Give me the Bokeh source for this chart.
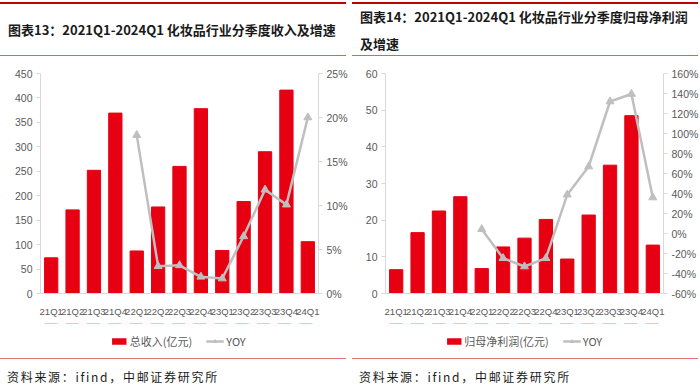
from bokeh.plotting import figure
from bokeh.models import (Range1d, LinearAxis, Legend, LegendItem, Div,
                          PrintfTickFormatter, FixedTicker)
from bokeh.core.properties import value
from bokeh.layouts import row, column
from bokeh.embed import file_html
from bokeh.resources import INLINE

# ---------------- data ----------------
quarters = ["21Q1", "21Q2", "21Q3", "21Q4", "22Q1", "22Q2", "22Q3", "22Q4",
            "23Q1", "23Q2", "23Q3", "23Q4", "24Q1"]
yoy_quarters = ["22Q1", "22Q2", "22Q3", "22Q4", "23Q1", "23Q2", "23Q3", "23Q4", "24Q1"]

revenue = [73, 171, 252, 369, 87, 177, 260, 378, 88, 188, 290, 416, 106]
revenue_yoy = [18.0, 3.1, 3.2, 1.9, 1.7, 6.5, 11.8, 10.1, 20.0]

profit = [6.5, 16.6, 22.5, 26.4, 6.8, 12.7, 15.1, 20.2, 9.4, 21.4, 35.0, 48.5, 13.2]
profit_yoy = [4.3, -24.7, -33.0, -24.7, 38.8, 67.0, 132.0, 139.5, 36.0]

left_ticks_1 = [0, 50, 100, 150, 200, 250, 300, 350, 400, 450]
right_ticks_1 = [0, 5, 10, 15, 20, 25]
left_ticks_2 = [0, 10, 20, 30, 40, 50, 60]
right_ticks_2 = [-60, -40, -20, 0, 20, 40, 60, 80, 100, 120, 140, 160]

title_1 = "图表13：2021Q1-2024Q1 化妆品行业分季度收入及增速"
title_2a = "图表14：2021Q1-2024Q1 化妆品行业分季度归母净利润"
title_2b = "及增速"
bar_label_1 = "总收入(亿元)"
bar_label_2 = "归母净利润(亿元)"
line_label = "YOY"
source_text = "资料来源：ifind，中邮证券研究所"

RED = "#E60012"
GRAY = "#BFBFBF"
AXIS = "#D9D9D9"
TXT = "#595959"
NUM_FONT = "Liberation Sans"
CJK = "Noto Sans CJK SC"


def add_series(p, values, yoy, bar_line):
    bars = p.vbar(x=quarters, top=values, width=0.62, fill_color=RED, line_color=bar_line)
    line = p.line(x=yoy_quarters, y=yoy, y_range_name="right", color=GRAY, line_width=2.5)
    pts = p.scatter(x=yoy_quarters, y=yoy, y_range_name="right", marker="triangle",
                    size=8, color=GRAY)
    return bars, line, pts


def make_chart(values, yoy, yl, yr, lticks, rticks, width, min_left, fw, min_right):
    p = figure(width=width, height=266, frame_width=fw, frame_height=220,
               x_range=quarters, y_range=Range1d(yl[0], yl[1]),
               output_backend="svg", toolbar_location=None,
               min_border_left=min_left, min_border_right=min_right,
               min_border_top=16, min_border_bottom=30)
    p.outline_line_color = None
    p.xgrid.grid_line_color = None
    p.ygrid.grid_line_color = None
    p.extra_y_ranges = {"right": Range1d(yr[0], yr[1])}
    add_series(p, values, yoy, RED)

    ya = p.yaxis[0]
    ya.ticker = FixedTicker(ticks=lticks)
    ra = LinearAxis(y_range_name="right", ticker=FixedTicker(ticks=rticks),
                    formatter=PrintfTickFormatter(format="%d%%"))
    p.add_layout(ra, "right")
    for ax in (ya, ra):
        ax.axis_line_color = AXIS
        ax.major_tick_line_color = AXIS
        ax.major_tick_out = 4
        ax.major_tick_in = 0
        ax.minor_tick_line_color = None
        ax.major_label_text_color = TXT
        ax.major_label_text_font = NUM_FONT
        ax.major_label_text_font_size = "10.5px"
        ax.major_label_standoff = 4
    xa = p.xaxis[0]
    xa.axis_line_color = AXIS
    xa.major_tick_line_color = None
    xa.major_tick_in = 0
    xa.major_tick_out = 0
    xa.separator_line_color = None
    xa.major_label_text_color = TXT
    xa.major_label_text_font = NUM_FONT
    xa.major_label_text_font_size = "9.5px"
    xa.major_label_standoff = 12
    return p


def make_legend(values, yoy, bar_label, width, shift):
    # legend strip: the same series, placed outside this strip's visible range,
    # so only the legend swatches show
    q = figure(width=width, height=35, x_range=quarters, y_range=Range1d(-1000, -999),
               output_backend="svg", toolbar_location=None,
               x_axis_location=None, y_axis_location=None,
               min_border_left=shift, min_border_right=0,
               min_border_top=0, min_border_bottom=0)
    q.extra_y_ranges = {"right": Range1d(-1000, -999)}
    q.outline_line_color = None
    q.xgrid.grid_line_color = None
    q.ygrid.grid_line_color = None
    bars, line, pts = add_series(q, values, yoy, None)
    legend = Legend(items=[LegendItem(label=value(bar_label), renderers=[bars]),
                           LegendItem(label=value(line_label), renderers=[line, pts])],
                    orientation="horizontal", location="center")
    legend.border_line_color = None
    legend.background_fill_alpha = 0
    legend.label_text_font = CJK
    legend.label_text_font_size = "11px"
    legend.label_text_color = TXT
    legend.glyph_width = 18
    legend.glyph_height = 8
    legend.spacing = 14
    legend.label_standoff = 2
    legend.padding = 2
    legend.margin = 0
    q.add_layout(legend, "center")
    return q


def header(lines_html, left_margin, width):
    return Div(text=(
        f'<div style="width:{width}px;height:54px;margin-top:2px;margin-left:{left_margin}px;'
        f'box-sizing:border-box;'
        f'border-top:2px solid #C00000;border-bottom:1.5px solid #E06060;'
        f'display:flex;flex-direction:column;justify-content:center;'
        f'padding-left:8px;font-family:\'{CJK}\';font-weight:bold;'
        f'font-size:13px;line-height:27px;color:#1a1a1a;white-space:nowrap;">'
        f'{lines_html}</div>'), width=left_margin + width + 2, height=57, margin=0)


def footer(left_margin, width):
    return Div(text=(
        f'<div style="width:{width}px;margin-top:0px;margin-left:{left_margin}px;'
        f'box-sizing:border-box;'
        f'border-top:1.5px solid #E57373;padding-top:9px;padding-left:7px;'
        f'font-family:\'{CJK}\';font-size:12px;letter-spacing:1.7px;color:#1a1a1a;'
        f'white-space:nowrap;">{source_text}</div>'), width=left_margin + width + 2,
        height=33, margin=0)


p1 = make_chart(revenue, revenue_yoy, (0, 450), (0, 25), left_ticks_1, right_ticks_1,
                348, 40, 278, 30)
p2 = make_chart(profit, profit_yoy, (0, 60), (-60, 160), left_ticks_2, right_ticks_2,
                350, 35, 278, 37)
l1 = make_legend(revenue, revenue_yoy, bar_label_1, 348, 10)
l2 = make_legend(profit, profit_yoy, bar_label_2, 350, 12)

left = column(header(title_1, 0, 346), p1, l1, footer(0, 346), spacing=0)
right = column(header(title_2a + "<br>" + title_2b, 2, 346), p2, l2, footer(2, 346),
               spacing=0)
page = row(left, right, spacing=0)

open("out.html", "w").write(file_html(page, INLINE))
